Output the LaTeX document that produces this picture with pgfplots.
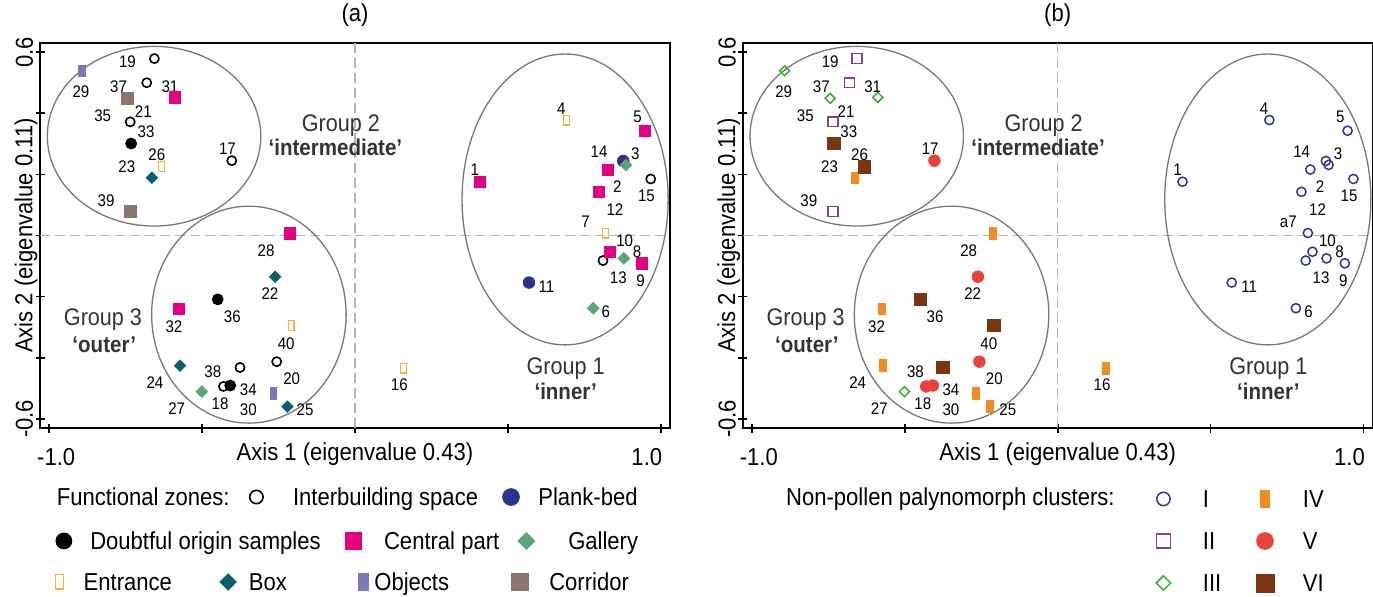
\documentclass[border=0pt]{standalone}
\usepackage{fontspec}
\setmainfont{Liberation Sans}[FakeStretch=0.9]
\usepackage{pgfplots}
\pgfplotsset{compat=1.18}

\definecolor{cplank}{RGB}{46,49,146}
\definecolor{cmag}{RGB}{229,0,126}
\definecolor{cgal}{RGB}{90,166,122}
\definecolor{cent}{RGB}{244,180,58}
\definecolor{cbox}{RGB}{10,95,110}
\definecolor{cobj}{RGB}{123,121,184}
\definecolor{ccor}{RGB}{138,118,108}
\definecolor{cI}{RGB}{52,52,150}
\definecolor{cII}{RGB}{139,61,150}
\definecolor{cIII}{RGB}{58,169,53}
\definecolor{cIV}{RGB}{241,139,34}
\definecolor{cV}{RGB}{232,66,60}
\definecolor{cVI}{RGB}{122,53,17}
\definecolor{cell}{RGB}{120,120,120}
\definecolor{cdash}{RGB}{180,180,180}
\definecolor{cgrp}{RGB}{51,51,51}

\newcommand\axfont{\fontsize{12.25pt}{14pt}\selectfont}
\newcommand\labfont{\fontsize{8.4pt}{10pt}\selectfont}
\newcommand\grpfont{\fontsize{12pt}{14pt}\selectfont}
\newcommand\grpbfont{\fontsize{11.4pt}{14pt}\selectfont\bfseries}

\tikzset{
  m-inter/.style={only marks, mark=o, mark size=2.3pt, black, mark options={line width=0.8pt}},
  m-plank/.style={only marks, mark=*, mark size=2.9pt, cplank},
  m-doubt/.style={only marks, mark=*, mark size=2.75pt, black},
  m-cent/.style={only marks, mark=square*, mark size=2.8pt, cmag},
  m-gal/.style={only marks, mark=square*, mark size=2.05pt, cgal, mark options={rotate=45}},
  m-ent/.style={only marks, mark=square, mark size=2.45pt, cent, mark options={xscale=0.6, line width=0.6pt}},
  m-box/.style={only marks, mark=square*, mark size=2.0pt, cbox, mark options={rotate=45}},
  m-obj/.style={only marks, mark=square*, mark size=2.9pt, cobj, mark options={xscale=0.55}},
  m-cor/.style={only marks, mark=square*, mark size=2.9pt, ccor},
  m-I/.style={only marks, mark=o, mark size=2.3pt, cI, mark options={line width=0.75pt}},
  m-II/.style={only marks, mark=square, mark size=2.45pt, cII, mark options={line width=0.7pt}},
  m-III/.style={only marks, mark=square, mark size=1.75pt, cIII, mark options={rotate=45, line width=0.75pt}},
  m-IV/.style={only marks, mark=square*, mark size=2.9pt, cIV, mark options={xscale=0.57}},
  m-V/.style={only marks, mark=*, mark size=2.9pt, cV},
  m-VI/.style={only marks, mark=square*, mark size=3.1pt, cVI},
  nl/.style={font=\labfont, inner sep=0pt, text=black},
  gl/.style={font=\grpfont, inner sep=0pt, text=cgrp},
  glb/.style={font=\grpbfont, inner sep=0pt, text=cgrp},
}

\pgfplotsset{
  geom/.style={scale only axis, width=315pt, height=192.5pt, anchor=south west,
    xmin=-1.03, xmax=1.03, ymin=-0.63, ymax=0.63},
  panel/.style={geom,
    axis line style={line width=0.8pt},
    tick pos=left, tick align=center, major tick length=4.5pt,
    every tick/.style={black, line width=0.8pt},
    xtick={-1,-0.5,0,0.5,1}, xticklabels={\hspace*{7pt}-1.0,,,,1.0\hspace*{14pt}},
    ytick={-0.6,-0.4,-0.2,0,0.2,0.4,0.6}, yticklabels={-0.6,,,,,,0.6},
    ticklabel style={font=\axfont},
    xticklabel style={yshift=-4.5pt},
    yticklabel style={rotate=90, anchor=south, inner sep=1pt},
    xlabel={Axis 1 (eigenvalue 0.43)}, ylabel={Axis 2 (eigenvalue 0.11)},
    label style={font=\axfont},
    xlabel style={at={(axis description cs:0.5,-0.0675)}, anchor=center},
    ylabel style={at={(axis description cs:-0.0222,0.5)}, anchor=center},
    clip=false},
  mylegend/.style={
    legend columns=-1,
    legend cell align=left,
    legend style={draw=none, fill=none, inner sep=0pt, outer sep=0pt, anchor=north west,
      font=\axfont, column sep=0pt, row sep=9.6pt,
      nodes={inner sep=0pt, text height=8.8pt, text depth=2.6pt}},
    legend image code/.code={\pgfpathrectangle{\pgfqpoint{0pt}{0pt}}{\pgfqpoint{8pt}{0.1pt}}\pgfusepath{use as bounding box}\draw[##1, every mark/.append style={scale=1.45}] plot coordinates {(4pt,1.3pt)};}},
}

\newcommand\numlabels[1]{%
  \node[nl] at (axis cs:-0.896,0.470) {29};
  \node[nl] at (axis cs:-0.744,0.568) {19};
  \node[nl] at (axis cs:-0.773,0.487) {37};
  \node[nl] at (axis cs:-0.605,0.487) {31};
  \node[nl] at (axis cs:-0.825,0.391) {35};
  \node[nl] at (axis cs:-0.692,0.405) {21};
  \node[nl] at (axis cs:-0.683,0.339) {33};
  \node[nl] at (axis cs:-0.648,0.263) {26};
  \node[nl] at (axis cs:-0.746,0.225) {23};
  \node[nl] at (axis cs:-0.417,0.283) {17};
  \node[nl] at (axis cs:-0.814,0.114) {39};
  \node[nl] at (axis cs:-0.291,-0.051) {28};
  \node[nl] at (axis cs:-0.278,-0.189) {22};
  \node[nl] at (axis cs:-0.401,-0.265) {36};
  \node[nl] at (axis cs:-0.592,-0.298) {32};
  \node[nl] at (axis cs:-0.225,-0.353) {40};
  \node[nl] at (axis cs:-0.654,-0.483) {24};
  \node[nl] at (axis cs:-0.465,-0.447) {38};
  \node[nl] at (axis cs:-0.207,-0.470) {20};
  \node[nl] at (axis cs:-0.349,-0.505) {34};
  \node[nl] at (axis cs:-0.441,-0.549) {18};
  \node[nl] at (axis cs:-0.583,-0.568) {27};
  \node[nl] at (axis cs:-0.349,-0.571) {30};
  \node[nl] at (axis cs:-0.163,-0.571) {25};
  \node[nl] at (axis cs:0.675,0.416) {4};
  \node[nl] at (axis cs:0.924,0.387) {5};
  \node[nl] at (axis cs:0.917,0.267) {3};
  \node[nl] at (axis cs:0.798,0.274) {14};
  \node[nl] at (axis cs:0.953,0.130) {15};
  \node[nl] at (axis cs:0.392,0.214) {1};
  \node[nl] at (axis cs:0.858,0.160) {2};
  \node[nl] at (axis cs:0.850,0.086) {12};
  \node[nl] at (axis cs:0.754,0.045) {#1};
  \node[nl] at (axis cs:0.882,-0.017) {10};
  \node[nl] at (axis cs:0.922,-0.053) {8};
  \node[nl] at (axis cs:0.861,-0.137) {13};
  \node[nl] at (axis cs:0.934,-0.148) {9};
  \node[nl] at (axis cs:0.626,-0.167) {11};
  \node[nl] at (axis cs:0.820,-0.249) {6};
  \node[nl] at (axis cs:0.145,-0.489) {16};
}

\newcommand\decor[1]{%
  \draw[cdash, dash pattern=on 5pt off 2.5pt, line width=0.6pt] (axis cs:0,-0.63) -- (axis cs:0,0.63);
  \draw[cdash, dash pattern=on 5pt off 2.5pt, line width=0.6pt] (axis cs:-1.03,0) -- (axis cs:1.03,0);
  \draw[cell, line width=0.65pt] (axis cs:-0.657,0.325) ellipse [x radius=0.349, y radius=0.294];
  \draw[cell, line width=0.65pt] (axis cs:-0.347,-0.259) ellipse [x radius=0.318, y radius=0.355];
  \draw[cell, line width=0.65pt] (axis cs:0.687,0.118) ellipse [x radius=0.337, y radius=0.476];
  \node[gl] at (axis cs:-0.046,0.361) {Group 2};
  \node[glb] at (axis cs:-0.064,0.290) {‘intermediate’};
  \node[gl] at (axis cs:-0.824,-0.274) {Group 3};
  \node[glb] at (axis cs:-0.820,-0.358) {‘outer’};
  \node[gl] at (axis cs:0.689,-0.434) {Group 1};
  \node[glb] at (axis cs:0.689,-0.511) {‘inner’};
  \node[font=\axfont, inner sep=0pt] at (axis description cs:0.5,1.0727) {#1};
}

\begin{document}
\begin{tikzpicture}
\path[use as bounding box] (0pt,0pt) rectangle (686.5pt,298pt);

% ---------------- panel (a)
\begin{axis}[panel, at={(20pt,84pt)}]
\decor{(a)}
\addplot[m-inter] coordinates {(-0.656,0.579) (-0.681,0.500) (-0.735,0.372) (-0.403,0.245) (-0.376,-0.432) (-0.256,-0.413) (-0.430,-0.494) (0.811,-0.082) (0.967,0.185)};
\addplot[m-plank] coordinates {(0.877,0.244) (0.569,-0.154)};
\addplot[m-doubt] coordinates {(-0.732,0.301) (-0.449,-0.209) (-0.408,-0.491)};
\addplot[m-cent] coordinates {(-0.588,0.452) (-0.212,0.007) (-0.575,-0.240) (0.408,0.176) (0.948,0.343) (0.826,0.216) (0.797,0.143) (0.833,-0.053) (0.939,-0.091)};
\addplot[m-gal] coordinates {(0.886,0.231) (0.879,-0.075) (0.779,-0.238) (-0.501,-0.511)};
\addplot[m-ent] coordinates {(-0.632,0.225) (-0.209,-0.295) (0.692,0.378) (0.818,0.008) (0.158,-0.434)};
\addplot[m-box] coordinates {(-0.664,0.189) (-0.261,-0.135) (-0.572,-0.426) (-0.221,-0.560)};
\addplot[m-obj] coordinates {(-0.893,0.539) (-0.267,-0.516)};
\addplot[m-cor] coordinates {(-0.744,0.449) (-0.735,0.078)};
\numlabels{7}
\node[anchor=base west, font=\axfont, inner sep=0pt] at (axis description cs:0.026,-0.2021) {Functional zones:};
\end{axis}

% legend rows of panel (a)
\begin{axis}[geom, hide axis, at={(20pt,84pt)}, mylegend,
  legend style={at={(axis description cs:0.3308,-0.1564)}}]
\addlegendimage{m-inter}
\addlegendentry{\makebox[119.3pt][l]{\hspace{14.3pt}Interbuilding space}}
\addlegendimage{m-plank}
\addlegendentry{\hspace{9.65pt}Plank-bed}
\end{axis}
\begin{axis}[geom, hide axis, at={(20pt,84pt)}, mylegend,
  legend style={at={(axis description cs:0.0252,-0.2706)}}]
\addlegendimage{m-doubt}
\addlegendentry{\makebox[136.7pt][l]{\hspace{9.2pt}Doubtful origin samples}}
\addlegendimage{m-cent}
\addlegendentry{\makebox[78.55pt][l]{\hspace{11.4pt}Central part}}
\addlegendimage{m-gal}
\addlegendentry{\hspace{16.95pt}Gallery}
\end{axis}
\begin{axis}[geom, hide axis, at={(20pt,84pt)}, mylegend,
  legend style={at={(axis description cs:0.01825,-0.3771)}}]
\addlegendimage{m-ent}
\addlegendentry{\makebox[76.35pt][l]{\hspace{8.1pt}Entrance}}
\addlegendimage{m-box}
\addlegendentry{\makebox[59.6pt][l]{\hspace{6.35pt}Box}}
\addlegendimage{m-obj}
\addlegendentry{\makebox[70.2pt][l]{\hspace{1.5pt}Objects}}
\addlegendimage{m-cor}
\addlegendentry{\hspace{10.75pt}Corridor}
\end{axis}

% ---------------- panel (b)
\begin{axis}[panel, at={(371.35pt,84pt)}, mylegend, legend columns=2,
  legend style={at={(axis description cs:0.6552,-0.1615)}}]
\decor{(b)}
\addplot[m-I] coordinates {(0.408,0.176) (0.692,0.378) (0.948,0.343) (0.877,0.244) (0.886,0.231) (0.826,0.216) (0.797,0.143) (0.967,0.185) (0.818,0.008) (0.833,-0.053) (0.811,-0.082) (0.879,-0.075) (0.939,-0.091) (0.569,-0.154) (0.779,-0.238)};
\addlegendentry{\makebox[42.75pt][l]{\hspace{15.75pt}I}}
\addplot[m-IV] coordinates {(-0.664,0.189) (-0.212,0.007) (-0.575,-0.240) (-0.572,-0.426) (-0.267,-0.516) (-0.221,-0.560) (0.158,-0.434)};
\addlegendentry{\hspace{15pt}IV}
\addplot[m-II] coordinates {(-0.656,0.579) (-0.681,0.500) (-0.735,0.372) (-0.735,0.078)};
\addlegendentry{\makebox[42.75pt][l]{\hspace{15.75pt}II}}
\addplot[m-V] coordinates {(-0.403,0.245) (-0.261,-0.135) (-0.256,-0.413) (-0.430,-0.494) (-0.408,-0.491)};
\addlegendentry{\hspace{15pt}V}
\addplot[m-III] coordinates {(-0.893,0.539) (-0.744,0.449) (-0.588,0.452) (-0.501,-0.511)};
\addlegendentry{\makebox[42.75pt][l]{\hspace{15.75pt}III}}
\addplot[m-VI] coordinates {(-0.732,0.301) (-0.632,0.225) (-0.449,-0.209) (-0.209,-0.295) (-0.376,-0.432)};
\addlegendentry{\hspace{15pt}VI}
\numlabels{a7}
\node[anchor=base west, font=\axfont, inner sep=0pt] at (axis description cs:0.0684,-0.2021) {Non-pollen palynomorph clusters:};
\end{axis}
\end{tikzpicture}
\end{document}
